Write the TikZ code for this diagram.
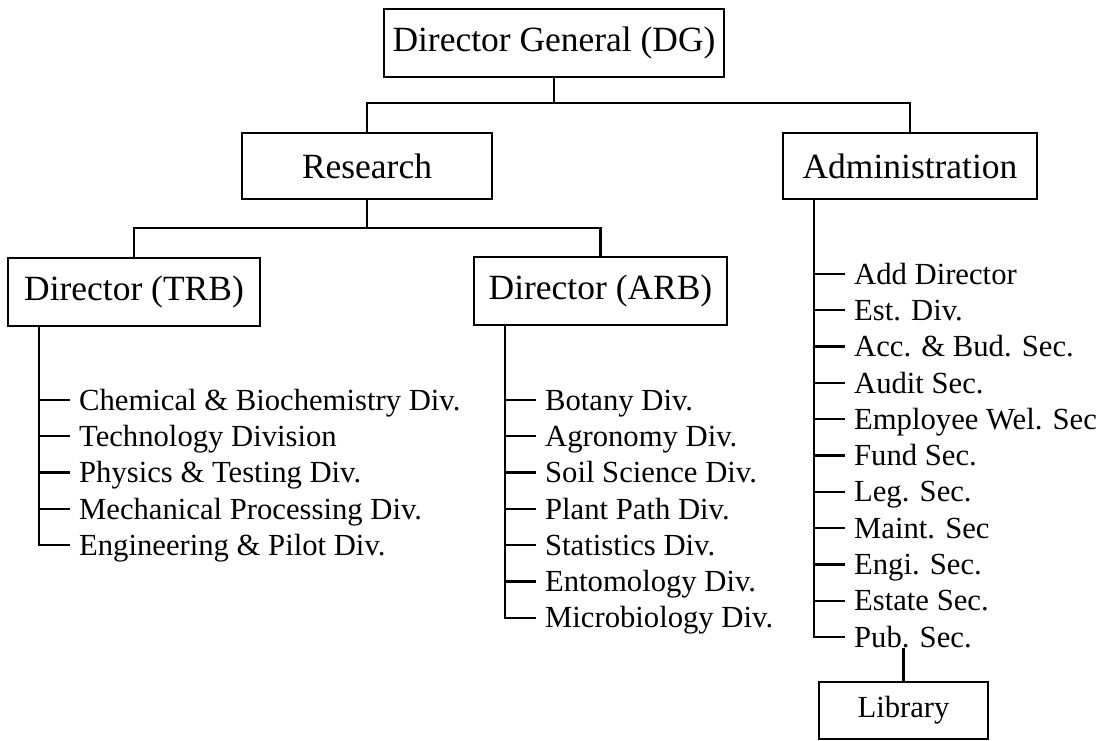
\documentclass[tikz,border=0pt]{standalone}
\usepackage{fontspec}
\setmainfont{Liberation Serif}
\usetikzlibrary{calc}
\begin{document}
\begin{tikzpicture}[x=0.75pt,y=-0.75pt,
  line width=1.7pt,
  unit/.style={draw, line width=1.7pt, inner sep=0pt, align=center,
    font=\fontsize{26.6}{30}\selectfont},
  libbox/.style={draw, line width=1.7pt, inner sep=0pt, align=center,
    font=\fontsize{23}{27}\selectfont},
  item/.style={anchor=west, inner xsep=6pt, inner ysep=0pt,
    text height=15.2pt, text depth=0pt, font=\fontsize{23}{27}\selectfont},
]
\useasboundingbox (0,0) rectangle (1115,740);

% top of the hierarchy
\node[unit, minimum width=255pt, minimum height=51pt] (dg) at (554,43) {Director General (DG)};
\node[unit, minimum width=187.5pt, minimum height=49.5pt] (res) at (367,166) {Research};
\node[unit, minimum width=190.5pt, minimum height=49.5pt] (adm) at (910,166) {Administration};

% research directors
\node[unit, minimum width=189pt, minimum height=51pt] (trb) at (134,292) {Director (TRB)};
\node[unit, minimum width=189.75pt, minimum height=51pt] (arb) at (600.5,291) {Director (ARB)};

% connectors between the boxes
\coordinate (bus1) at (dg.south |- 0,103);
\draw (dg.south) -- (bus1);
\draw (res.north) |- (bus1) -| (adm.north);
\coordinate (bus2) at (res.south |- 0,228);
\draw (res.south) -- (bus2);
\draw (trb.north) |- (bus2) -| (arb.north);

% TRB divisions
\foreach [count=\i] \t in {Chemical \& Biochemistry Div., Technology Division,
    Physics \& Testing Div., Mechanical Processing Div., Engineering \& Pilot Div.}
  \node[item] (t\i) at (70,{400+36.3*(\i-1)}) {\t};
\coordinate (ts) at ($(trb.south west)+(32,0)$);
\draw (ts) |- (t5.west);
\foreach \i in {1,...,4} \draw (t\i.west) -- (t\i.west -| ts);

% ARB divisions
\foreach [count=\i] \t in {Botany Div., Agronomy Div., Soil Science Div.,
    Plant Path Div., Statistics Div., Entomology Div., Microbiology Div.}
  \node[item] (a\i) at (536,{400+36.3*(\i-1)}) {\t};
\coordinate (as) at ($(arb.south west)+(32,0)$);
\draw (as) |- (a7.west);
\foreach \i in {1,...,6} \draw (a\i.west) -- (a\i.west -| as);

% administration sections
\foreach [count=\i] \t in {Add Director, Est. Div., Acc. \& Bud. Sec., Audit Sec.,
    Employee Wel. Sec, Fund Sec., Leg. Sec., Maint. Sec, Engi. Sec., Estate Sec., Pub. Sec.}
  \node[item] (m\i) at (845,{274+36.3*(\i-1)}) {\t};
\coordinate (ms) at ($(adm.south west)+(32,0)$);
\draw (ms) |- (m11.west);
\foreach \i in {1,...,10} \draw (m\i.west) -- (m\i.west -| ms);

% library under the publication section
\node[libbox, minimum width=126.75pt, minimum height=42.75pt] (lib) at (903.5,710.5) {Library};
\draw (lib.north) -- (lib.north |- m11.south);
\end{tikzpicture}
\end{document}
